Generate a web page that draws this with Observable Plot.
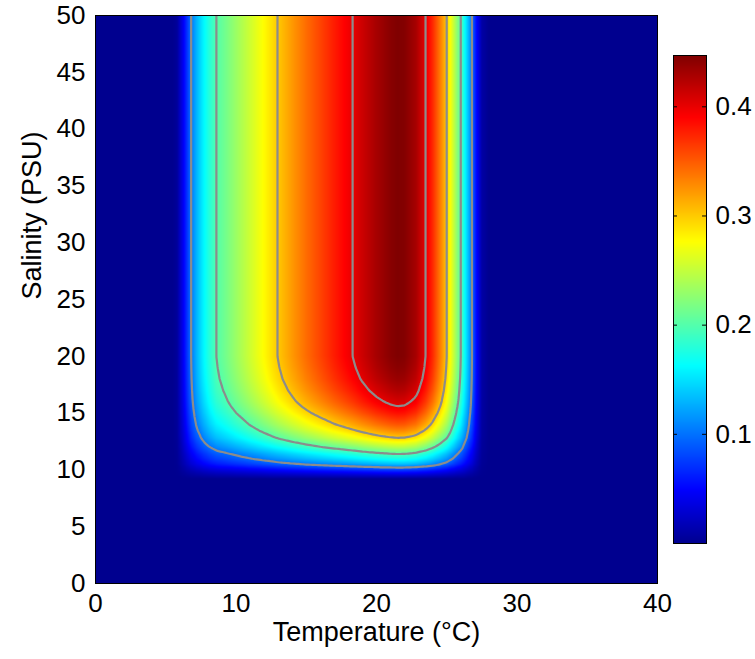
<!DOCTYPE html>
<html><head><meta charset="utf-8">
<script src="https://cdn.jsdelivr.net/npm/d3@7"></script>
<script src="https://cdn.jsdelivr.net/npm/@observablehq/plot@0.6"></script>
<style>
body{margin:0;background:#fff;}
#wrap{position:relative;width:755px;height:659px;overflow:hidden;font-family:"Liberation Sans",Arial,sans-serif;}
#main,#bar{position:absolute;}
#main{left:0;top:0;}
#bar{left:673px;top:45px;}
</style></head><body><div id="wrap"><div id="main"></div><div id="bar"></div></div>
<script>
const temperature = [0, 5.5, 5.8, 6.2, 6.5, 6.8, 7.2, 7.7, 8.1, 8.6, 9.2, 10, 11, 12, 12.95, 14, 15, 16, 17, 18.3, 19, 20, 21, 21.5, 22, 22.8, 23.5, 24, 24.5, 25, 25.5, 26, 26.4, 26.8, 27.1, 27.5, 28, 40];
const tempResponse = [0, 0, 0.005, 0.04, 0.07, 0.1, 0.13, 0.16, 0.18, 0.2, 0.213, 0.232, 0.255, 0.278, 0.3, 0.322, 0.342, 0.36, 0.378, 0.4, 0.413, 0.43, 0.443, 0.447, 0.445, 0.43, 0.4, 0.372, 0.338, 0.3, 0.25, 0.2, 0.15, 0.1, 0.055, 0.01, 0, 0];
// Salinity factor (relative) (constant above 20 PSU, also past the axis top)
const salinity = [0, 9.2, 9.6, 10, 10.5, 11, 11.4, 12, 12.8, 13.5, 14, 15, 15.6, 16, 17, 18, 19, 20, 50, 56];
const salinityFactor = [0, 0, 0.08, 0.17, 0.3, 0.39, 0.447, 0.55, 0.67, 0.745, 0.79, 0.86, 0.895, 0.915, 0.95, 0.975, 0.99, 1, 1, 1];

const contourLevels = [0.1, 0.2, 0.3, 0.4];
const colorbarTicks = [0.1, 0.2, 0.3, 0.4];
const xTicks = [0, 10, 20, 30, 40];
const yTicks = [0, 5, 10, 15, 20, 25, 30, 35, 40, 45, 50];
const vmax = 0.447;
const jetStops = [0, 0.111, 0.365, 0.619, 0.873, 1];
const jetColors = ["#00008f", "#0000ff", "#00ffff", "#ffff00", "#ff0000", "#800000"];

const grid = [];
temperature.forEach((t, i) => salinity.forEach((s, j) => grid.push({t, s, v: tempResponse[i] * salinityFactor[j]})));

const color = {type: "linear", domain: jetStops.map(p => p * vmax), range: jetColors, interpolate: "rgb", clamp: true};
const font = "Liberation Sans, Arial, Helvetica, sans-serif";

const main = Plot.plot({
  width: 755, height: 659,
  marginLeft: 95, marginTop: 15, marginRight: 98, marginBottom: 76,
  style: {fontFamily: font, background: "transparent", color: "#000"},
  x: {domain: [0, 40]},
  y: {domain: [0, 50]},
  color,
  marks: [
    Plot.raster(grid, {x: "t", y: "s", fill: "v", interpolate: "barycentric", x1: 0, x2: 40, y1: 0, y2: 50}),
    Plot.contour(grid, {x: "t", y: "s", value: "v", thresholds: contourLevels, interpolate: "barycentric", x1: 0, x2: 40, y1: 0, y2: 54, clip: true, fill: "none", stroke: "#8c8c8c", strokeWidth: 2.2}),
    Plot.frame({stroke: "#000", strokeWidth: 1}),
    Plot.axisX({ticks: xTicks, tickSize: 0, tickPadding: 10, fontSize: 26, label: null}),
    Plot.axisY({ticks: yTicks, tickSize: 0, tickPadding: 10, fontSize: 26, label: null}),
    Plot.text(["Temperature (°C)"], {frameAnchor: "bottom", dy: 57, fontSize: 27, fill: "#000"}),
    Plot.text(["Salinity (PSU)"], {frameAnchor: "left", dx: -63, rotate: -90, fontSize: 27, fill: "#000"})
  ]
});
document.getElementById("main").appendChild(main);

const bar = Plot.plot({
  width: 82, height: 508,
  marginLeft: 0, marginRight: 49, marginTop: 10, marginBottom: 10,
  style: {fontFamily: font, background: "transparent", color: "#000", overflow: "visible"},
  x: {domain: [0, 1], axis: null},
  y: {domain: [0, vmax]},
  color,
  marks: [
    Plot.raster({fill: (x, y) => y, x1: 0, x2: 1, y1: 0, y2: vmax, width: 1, height: 488}),
    Plot.ruleY(colorbarTicks, {x1: 0, x2: 0.12, stroke: "#000"}),
    Plot.ruleY(colorbarTicks, {x1: 0.88, x2: 1, stroke: "#000"}),
    Plot.frame({stroke: "#000"}),
    Plot.axisY({anchor: "right", ticks: colorbarTicks, tickFormat: d3.format(".1f"), tickSize: 0, tickPadding: 9, fontSize: 26, label: null})
  ]
});
document.getElementById("bar").appendChild(bar);
</script></body></html>
